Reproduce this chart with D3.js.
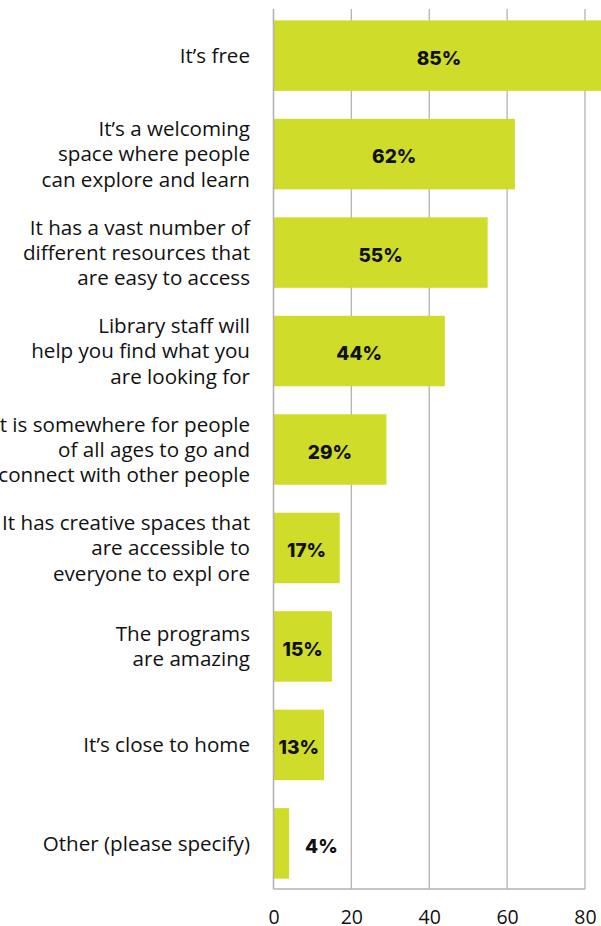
<!DOCTYPE html>
<html>
<head>
<meta charset="utf-8">
<script src="https://cdn.jsdelivr.net/npm/d3@7"></script>
<style>
  html, body { margin: 0; padding: 0; background: #fff; }
  svg { display: block; }
</style>
</head>
<body>
<svg id="chart" width="601" height="926"></svg>
<script>
// Reasons people value the library (share of respondents, %)
const categories = [
  "It’s free",
  "It’s a welcoming space where people can explore and learn",
  "It has a vast number of different resources that are easy to access",
  "Library staff will help you find what you are looking for",
  "It is somewhere for people of all ages to go and connect with other people",
  "It has creative spaces that are accessible to everyone to expl ore",
  "The programs are amazing",
  "It’s close to home",
  "Other (please specify)"
];
const categoryLines = [
  ["It’s free"],
  ["It’s a welcoming", "space where people", "can explore and learn"],
  ["It has a vast number of", "different resources that", "are easy to access"],
  ["Library staff will", "help you find what you", "are looking for"],
  ["It is somewhere for people", "of all ages to go and", "connect with other people"],
  ["It has creative spaces that", "are accessible to", "everyone to expl ore"],
  ["The programs", "are amazing"],
  ["It’s close to home"],
  ["Other (please specify)"]
];
const values = [85, 62, 55, 44, 29, 17, 15, 13, 4];
const tickValues = [0, 20, 40, 60, 80];

const svg = d3.select("#chart");
const plot = { left: 273.5, right: 585, top: 10, bottom: 889 };

const x = d3.scaleLinear().domain([0, 80]).range([plot.left, plot.right]);
const y = d3.scaleBand().domain(categories).range([plot.top, plot.bottom])
  .paddingInner(0.284).paddingOuter(0.105);

const gridColor = "#b3b3b3";
const barColor = "#cfdc29";

// vertical gridlines
svg.append("g").selectAll("line").data(tickValues.slice(1)).join("line")
  .attr("x1", d => x(d)).attr("x2", d => x(d))
  .attr("y1", 9).attr("y2", plot.bottom)
  .attr("stroke", gridColor).attr("stroke-width", 1.3);

// bars
svg.append("g").selectAll("rect").data(values).join("rect")
  .attr("x", x(0))
  .attr("y", (d, i) => y(categories[i]))
  .attr("width", d => x(d) - x(0))
  .attr("height", y.bandwidth())
  .attr("fill", barColor);

// axis lines (left and bottom)
svg.append("line").attr("x1", plot.left).attr("x2", plot.left).attr("y1", 9).attr("y2", plot.bottom)
  .attr("stroke", gridColor).attr("stroke-width", 1.6);
svg.append("line").attr("x1", plot.left).attr("x2", plot.right).attr("y1", plot.bottom).attr("y2", plot.bottom)
  .attr("stroke", gridColor).attr("stroke-width", 1.6);

// bottom tick labels
const xAxis = d3.axisBottom(x).tickValues(tickValues).tickSize(0).tickPadding(0)
  .tickFormat(d3.format("d"));
const gx = svg.append("g").attr("transform", `translate(0,${plot.bottom})`).call(xAxis);
gx.select(".domain").remove();
gx.selectAll("text")
  .attr("y", 34.5).attr("dy", 0)
  .attr("font-family", "'Open Sans', sans-serif")
  .attr("font-size", 19.5)
  .attr("fill", "#111");

// value labels: inside the bar when it fits, otherwise just past its end
const fitsInside = d => x(d) - x(0) > 45;
svg.append("g").selectAll("text").data(values).join("text")
  .attr("x", d => fitsInside(d) ? (x(0) + x(d)) / 2 : x(d) + 16)
  .attr("y", (d, i) => y(categories[i]) + y.bandwidth() / 2 + 2.5)
  .attr("dy", "0.36em")
  .attr("text-anchor", d => fitsInside(d) ? "middle" : "start")
  .attr("font-family", "Inter, 'DejaVu Sans', sans-serif")
  .attr("font-weight", 800)
  .attr("font-size", 19)
  .attr("fill", "#111")
  .text(d => d + "%");

// category labels (right-aligned, multi-line)
const lineH = 25.2;
const cat = svg.append("g").selectAll("text").data(categoryLines).join("text")
  .attr("text-anchor", "end")
  .attr("font-family", "'Open Sans', sans-serif")
  .attr("font-size", 20.6)
  .attr("fill", "#111")
  .attr("transform", (d, i) => {
    const cy = y(categories[i]) + y.bandwidth() / 2;
    return `translate(250,${cy - (d.length - 1) * lineH / 2})`;
  });
cat.selectAll("tspan").data(d => d).join("tspan")
  .attr("x", 0)
  .attr("y", (d, j) => j * lineH)
  .attr("dy", "0.36em")
  .text(d => d);
</script>
</body>
</html>
